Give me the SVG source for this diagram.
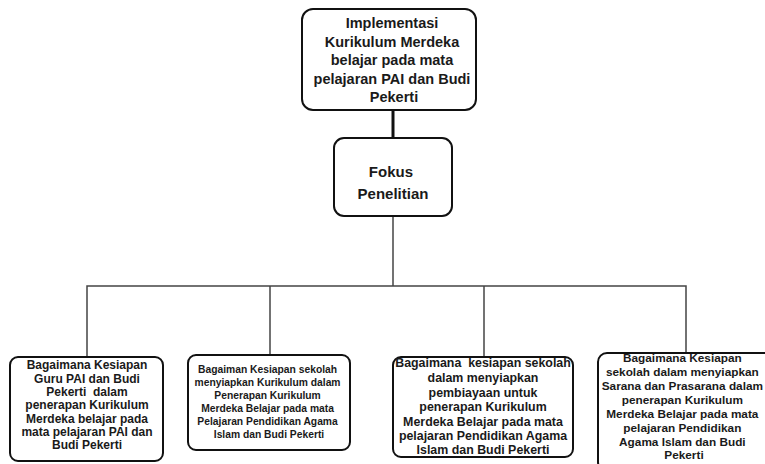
<svg xmlns="http://www.w3.org/2000/svg" width="765" height="464" viewBox="0 0 765 464">
<style>
  .box{fill:#fff;stroke:#111;stroke-width:2}
  .t{font-family:"Liberation Sans",Arial,sans-serif;font-weight:bold;fill:#1a1a1a;text-anchor:middle}
  .conn{stroke:#444;stroke-width:1.5;fill:none}
</style>
<rect width="765" height="464" fill="#fff"/>
<g id="connectors">
  <line x1="393" y1="110" x2="393" y2="138" stroke="#111" stroke-width="3"/>
  <line class="conn" x1="393" y1="216" x2="393" y2="286" stroke="#222"/>
  <polyline class="conn" points="87,357 87,286 686,286 686,353"/>
  <line class="conn" x1="270" y1="286" x2="270" y2="355"/>
  <line class="conn" x1="484" y1="286" x2="484" y2="357"/>
</g>
<g id="top">
  <rect class="box" x="302" y="9" width="174" height="101" rx="11" stroke-width="2.5"/>
  <text class="t" font-size="14.5" x="394">
    <tspan x="394" y="28">Implementasi</tspan>
    <tspan x="394" y="47">Kurikulum Merdeka</tspan>
    <tspan x="394" y="65">belajar pada mata</tspan>
    <tspan x="394" y="84">pelajaran PAI dan Budi</tspan>
    <tspan x="394" y="102">Pekerti</tspan>
  </text>
</g>
<g id="fokus">
  <rect class="box" x="334" y="138" width="118" height="78" rx="10"/>
  <text class="t" font-size="15" x="393">
    <tspan x="393" y="177">Fokus</tspan>
    <tspan x="393" y="199">Penelitian</tspan>
  </text>
</g>
<g id="q1">
  <rect class="box" x="10" y="357" width="153" height="104" rx="8"/>
  <text class="t" font-size="12" x="87" xml:space="preserve"><tspan x="87" y="369">Bagaimana Kesiapan</tspan><tspan x="87" y="383">Guru PAI dan Budi</tspan><tspan x="87" y="396">Pekerti  dalam</tspan><tspan x="87" y="409">penerapan Kurikulum</tspan><tspan x="87" y="423">Merdeka belajar pada</tspan><tspan x="87" y="436">mata pelajaran PAI dan</tspan><tspan x="87" y="449">Budi Pekerti</tspan></text>
</g>
<g id="q2">
  <rect class="box" x="188" y="355" width="162" height="95" rx="8"/>
  <text class="t" font-size="10.3" x="269">
    <tspan x="269" y="373">Bagaiman Kesiapan sekolah</tspan>
    <tspan x="269" y="386">menyiapkan Kurikulum dalam</tspan>
    <tspan x="269" y="399">Penerapan Kurikulum</tspan>
    <tspan x="269" y="412">Merdeka Belajar pada mata</tspan>
    <tspan x="269" y="425">Pelajaran Pendidikan Agama</tspan>
    <tspan x="269" y="438">Islam dan Budi Pekerti</tspan>
  </text>
</g>
<g id="q3">
  <rect class="box" x="393" y="357" width="180" height="100" rx="8"/>
  <text class="t" font-size="12.4" x="483" xml:space="preserve"><tspan x="483" y="367">Bagaimana  kesiapan sekolah</tspan><tspan x="483" y="382">dalam menyiapkan</tspan><tspan x="483" y="397">pembiayaan untuk</tspan><tspan x="483" y="411">penerapan Kurikulum</tspan><tspan x="483" y="426">Merdeka Belajar pada mata</tspan><tspan x="483" y="440">pelajaran Pendidikan Agama</tspan><tspan x="483" y="454">Islam dan Budi Pekerti</tspan></text>
</g>
<g id="q4">
  <rect class="box" x="598" y="353" width="176" height="118" rx="9"/>
  <text class="t" font-size="11.8" x="684">
    <tspan x="684" y="362">Bagaimana Kesiapan</tspan>
    <tspan x="684" y="376">sekolah dalam menyiapkan</tspan>
    <tspan x="684" y="390">Sarana dan Prasarana dalam</tspan>
    <tspan x="684" y="404">penerapan Kurikulum</tspan>
    <tspan x="684" y="418">Merdeka Belajar pada mata</tspan>
    <tspan x="684" y="432">pelajaran Pendidikan</tspan>
    <tspan x="684" y="446">Agama Islam dan Budi</tspan>
    <tspan x="684" y="459">Pekerti</tspan>
  </text>
</g>
</svg>
